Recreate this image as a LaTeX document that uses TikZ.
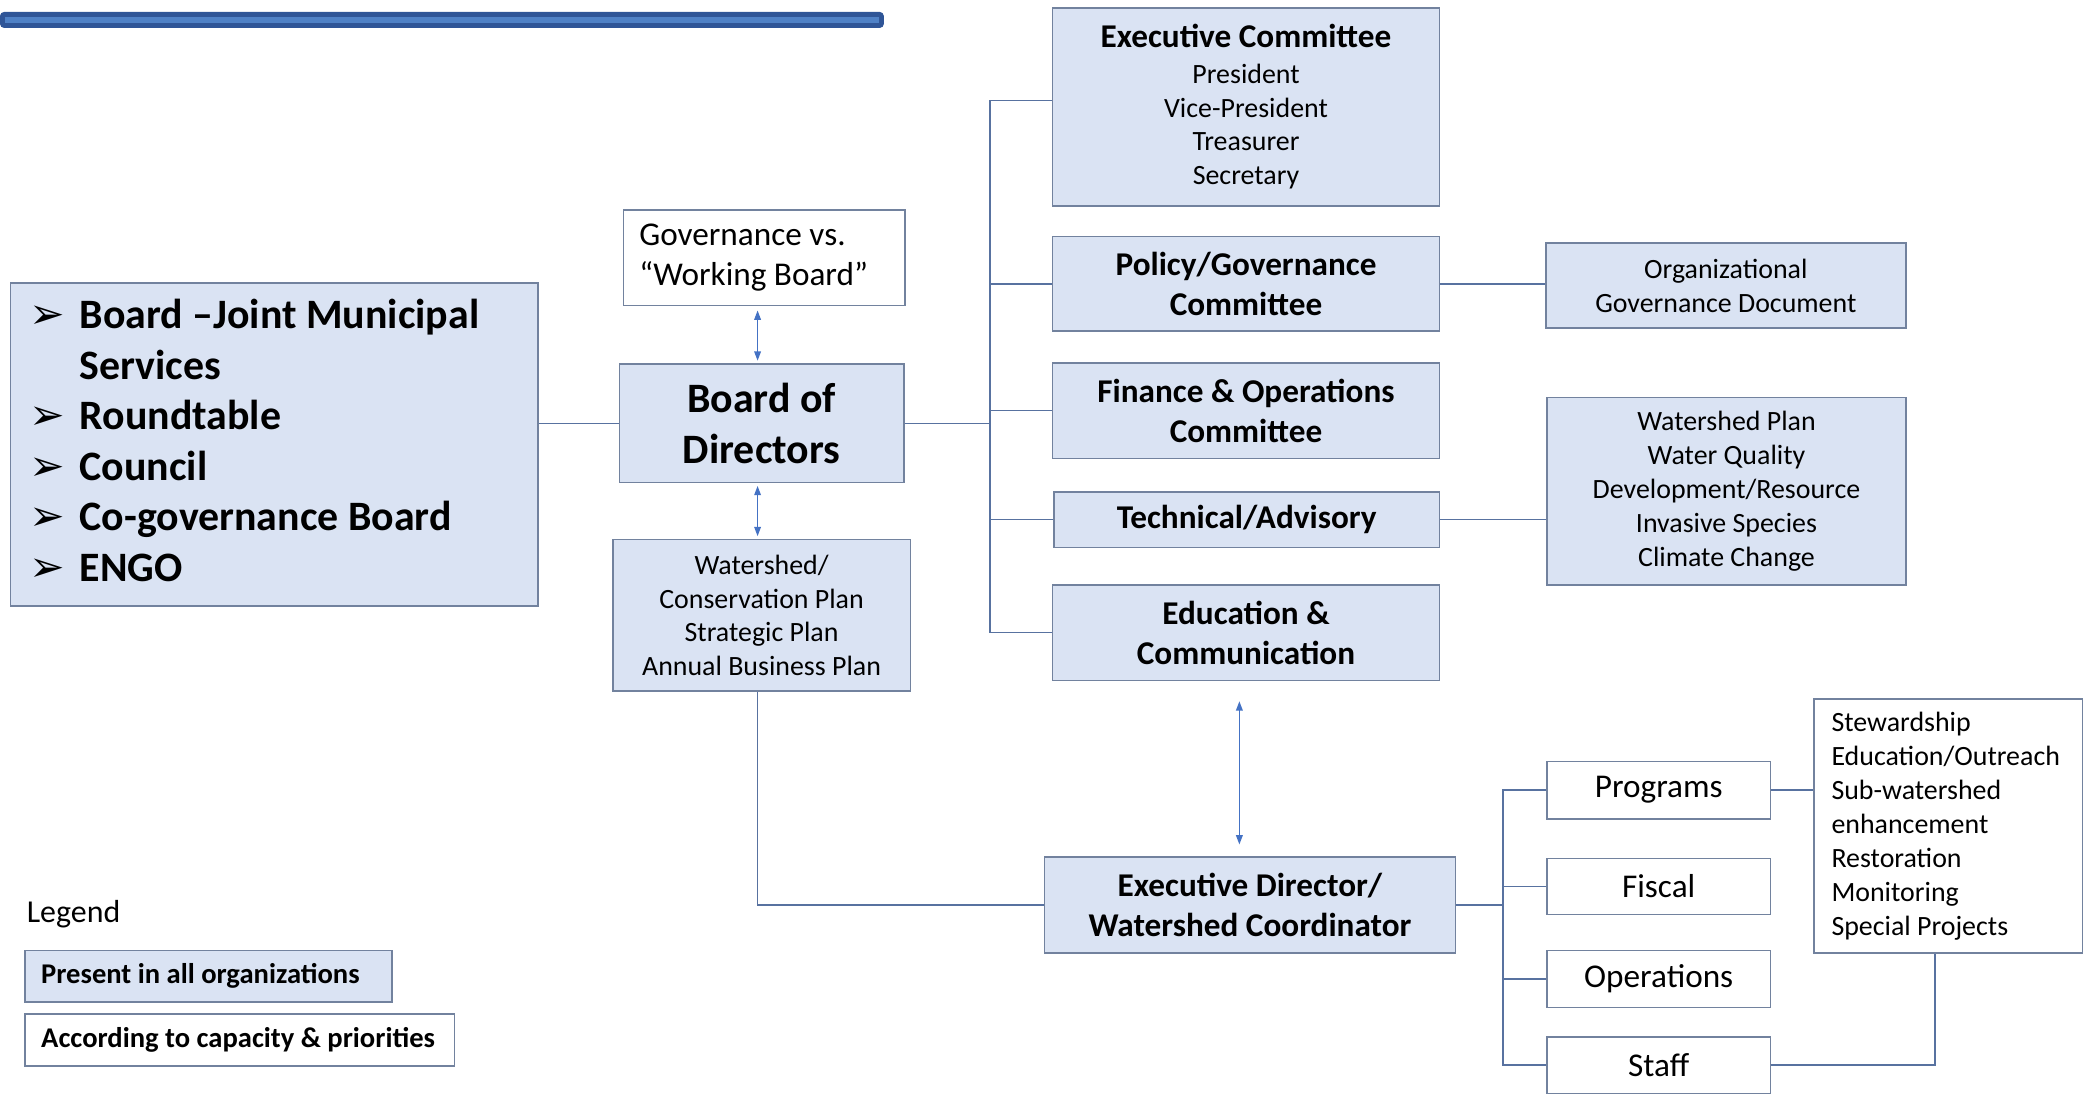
\documentclass[tikz,border=0pt]{standalone}
\usepackage{fontspec}
\setmainfont{Carlito}
\newfontfamily\dingfont{DejaVu Sans}
\usetikzlibrary{arrows.meta}
\hyphenpenalty=10000
\exhyphenpenalty=10000

\definecolor{boxblue}{HTML}{DAE3F3}
\definecolor{boxline}{HTML}{72829E}
\definecolor{linkblue}{HTML}{5872A0}
\definecolor{arrowblue}{HTML}{4472C4}
\definecolor{bardark}{HTML}{2F5597}
\definecolor{barlight}{HTML}{4F81C6}

\newcommand{\bul}{\makebox[38pt][l]{\dingfont\fontsize{32}{38}\selectfont ➢}}

\begin{document}
\begin{tikzpicture}[x=1pt, y=-1pt]
  \tikzstyle{core}=[draw=boxline, fill=boxblue, line width=1.2pt, inner sep=0pt, align=center]
  \tikzstyle{extra}=[draw=boxline, fill=white, line width=1.2pt, inner sep=0pt, align=center]
  \tikzstyle{link}=[draw=linkblue, line width=1.2pt]
  \tikzstyle{twoway}=[{Triangle[length=7pt,width=5pt]}-{Triangle[length=7pt,width=5pt]}, draw=arrowblue, line width=1pt]
  \tikzstyle{smalltext}=[font=\fontsize{21}{25.5}\selectfont]
  \tikzstyle{midtext}=[font=\fontsize{25}{30}\selectfont]
  \tikzstyle{headtext}=[font=\bfseries\fontsize{25}{30}\selectfont]
  \tikzstyle{bigtext}=[font=\bfseries\fontsize{31.5}{38}\selectfont]
  \tikzstyle{legtext}=[font=\bfseries\fontsize{21.5}{25}\selectfont]

  \useasboundingbox (0, 0) rectangle (1568, 823);

  \fill[bardark, rounded corners=3pt] (0, 9) rectangle (665, 21);
  \fill[barlight] (4, 12.5) rectangle (661, 17.5);

  \node[core, bigtext, align=flush left, minimum width=397pt, minimum height=243pt, text width=369pt] (members) at (206.5, 334.5)
    {\bul Board \textendash Joint Municipal\\ \hspace*{38pt}Services\\ \bul Roundtable\\ \bul Council\\ \bul Co-governance Board\\ \bul ENGO\vspace{6pt}};

  \node[extra, midtext, align=flush left, minimum width=212pt, minimum height=72pt, text width=188pt] (gov) at (575, 194)
    {\mbox{Governance vs.}\\ \mbox{“Working Board”}};
  \node[core, bigtext, minimum width=214pt, minimum height=89pt] (board) at (573, 318.5) {Board of\\ Directors};
  \node[core, smalltext, minimum width=224pt, minimum height=114pt] (plans) at (573, 463)
    {Watershed/\\ Conservation Plan\\ Strategic Plan\\ Annual Business Plan};

  \node[core, smalltext, minimum width=291pt, minimum height=149pt] (exec) at (937.5, 80.5)
    {{\bfseries\fontsize{25}{30}\selectfont Executive Committee}\\[1pt] President\\ Vice-President\\ Treasurer\\ Secretary};
  \node[core, headtext, minimum width=291pt, minimum height=71pt] (policy) at (937.5, 213.5) {Policy/Governance\\ Committee};
  \node[core, headtext, minimum width=291pt, minimum height=72pt] (finance) at (937.5, 309) {Finance \& Operations\\ Committee};
  \node[core, headtext, minimum width=290pt, minimum height=42pt] (tech) at (938, 391) {Technical/Advisory};
  \node[core, headtext, minimum width=291pt, minimum height=72pt] (edu) at (937.5, 476) {Education \&\\ Communication};

  \node[core, smalltext, minimum width=271pt, minimum height=64pt] (orgdoc) at (1298.5, 215) {Organizational\\ Governance Document};
  \node[core, smalltext, minimum width=270pt, minimum height=141pt] (topics) at (1299, 369.5)
    {Watershed Plan\\ Water Quality\\ Development/Resource\\ Invasive Species\\ Climate Change};

  \node[core, headtext, minimum width=309pt, minimum height=72pt] (execdir) at (940.5, 681) {Executive Director/\\ Watershed Coordinator};

  \node[extra, midtext, minimum width=168pt, minimum height=43pt] (programs) at (1248, 594.5) {Programs};
  \node[extra, midtext, minimum width=168pt, minimum height=42pt] (fiscal) at (1248, 667) {Fiscal};
  \node[extra, midtext, minimum width=168pt, minimum height=43pt] (operations) at (1248, 736.5) {Operations};
  \node[extra, midtext, minimum width=168pt, minimum height=43pt] (staff) at (1248, 801.5) {Staff};
  \node[extra, smalltext, align=flush left, minimum width=202pt, minimum height=191pt, text width=176pt] (stew) at (1466, 621.5)
    {Stewardship\\ Education/Outreach\\ Sub-watershed\\ enhancement\\ Restoration\\ Monitoring\\ Special Projects};

  \node[anchor=west, inner sep=0pt, font=\fontsize{24}{28}\selectfont] (legend) at (20, 688) {Legend};
  \node[core, legtext, align=flush left, minimum width=276pt, minimum height=39pt, text width=252pt] (legcore) at (157, 734.5)
    {\mbox{Present in all organizations}};
  \node[extra, legtext, align=flush left, minimum width=323pt, minimum height=39pt, text width=299pt] (legextra) at (180.5, 782.5)
    {\mbox{According to capacity \& priorities}};

  \coordinate (busa) at (745, 0);
  \coordinate (busb) at (1131, 0);

  \draw[link] (members.east |- board.west) -- (board.west);
  \draw[link] (board.east) -- (board.east -| busa);
  \draw[link] ([yshift=5pt]exec.west) -- ([yshift=5pt]exec.west -| busa) |- (edu.west);
  \draw[link] (policy.west) -- (policy.west -| busa);
  \draw[link] (finance.west) -- (finance.west -| busa);
  \draw[link] (tech.west) -- (tech.west -| busa);
  \draw[link] (policy.east) -- (policy.east -| orgdoc.west);
  \draw[link] (tech.east) -- (tech.east -| topics.west);
  \draw[link] ([xshift=-3pt]plans.south) |- (execdir.west);
  \draw[link] (execdir.east) -- (execdir.east -| busb);
  \draw[link] (programs.west) -- (programs.west -| busb) |- (staff.west);
  \draw[link] (fiscal.west) -- (fiscal.west -| busb);
  \draw[link] (operations.west) -- (operations.west -| busb);
  \draw[link] (programs.east) -- (programs.east -| stew.west);
  \draw[link] (staff.east) -| ([xshift=-10pt]stew.south);

  \draw[twoway, shorten <=3pt, shorten >=2pt] ([xshift=-5pt]gov.south) -- ([xshift=-5pt]gov.south |- board.north);
  \draw[twoway, shorten <=2pt, shorten >=2pt] ([xshift=-3pt]board.south) -- ([xshift=-3pt]board.south |- plans.north);
  \draw[twoway, shorten <=15pt, shorten >=9pt] ([xshift=-5pt]edu.south) -- ([xshift=-5pt]edu.south |- execdir.north);

\end{tikzpicture}
\end{document}
